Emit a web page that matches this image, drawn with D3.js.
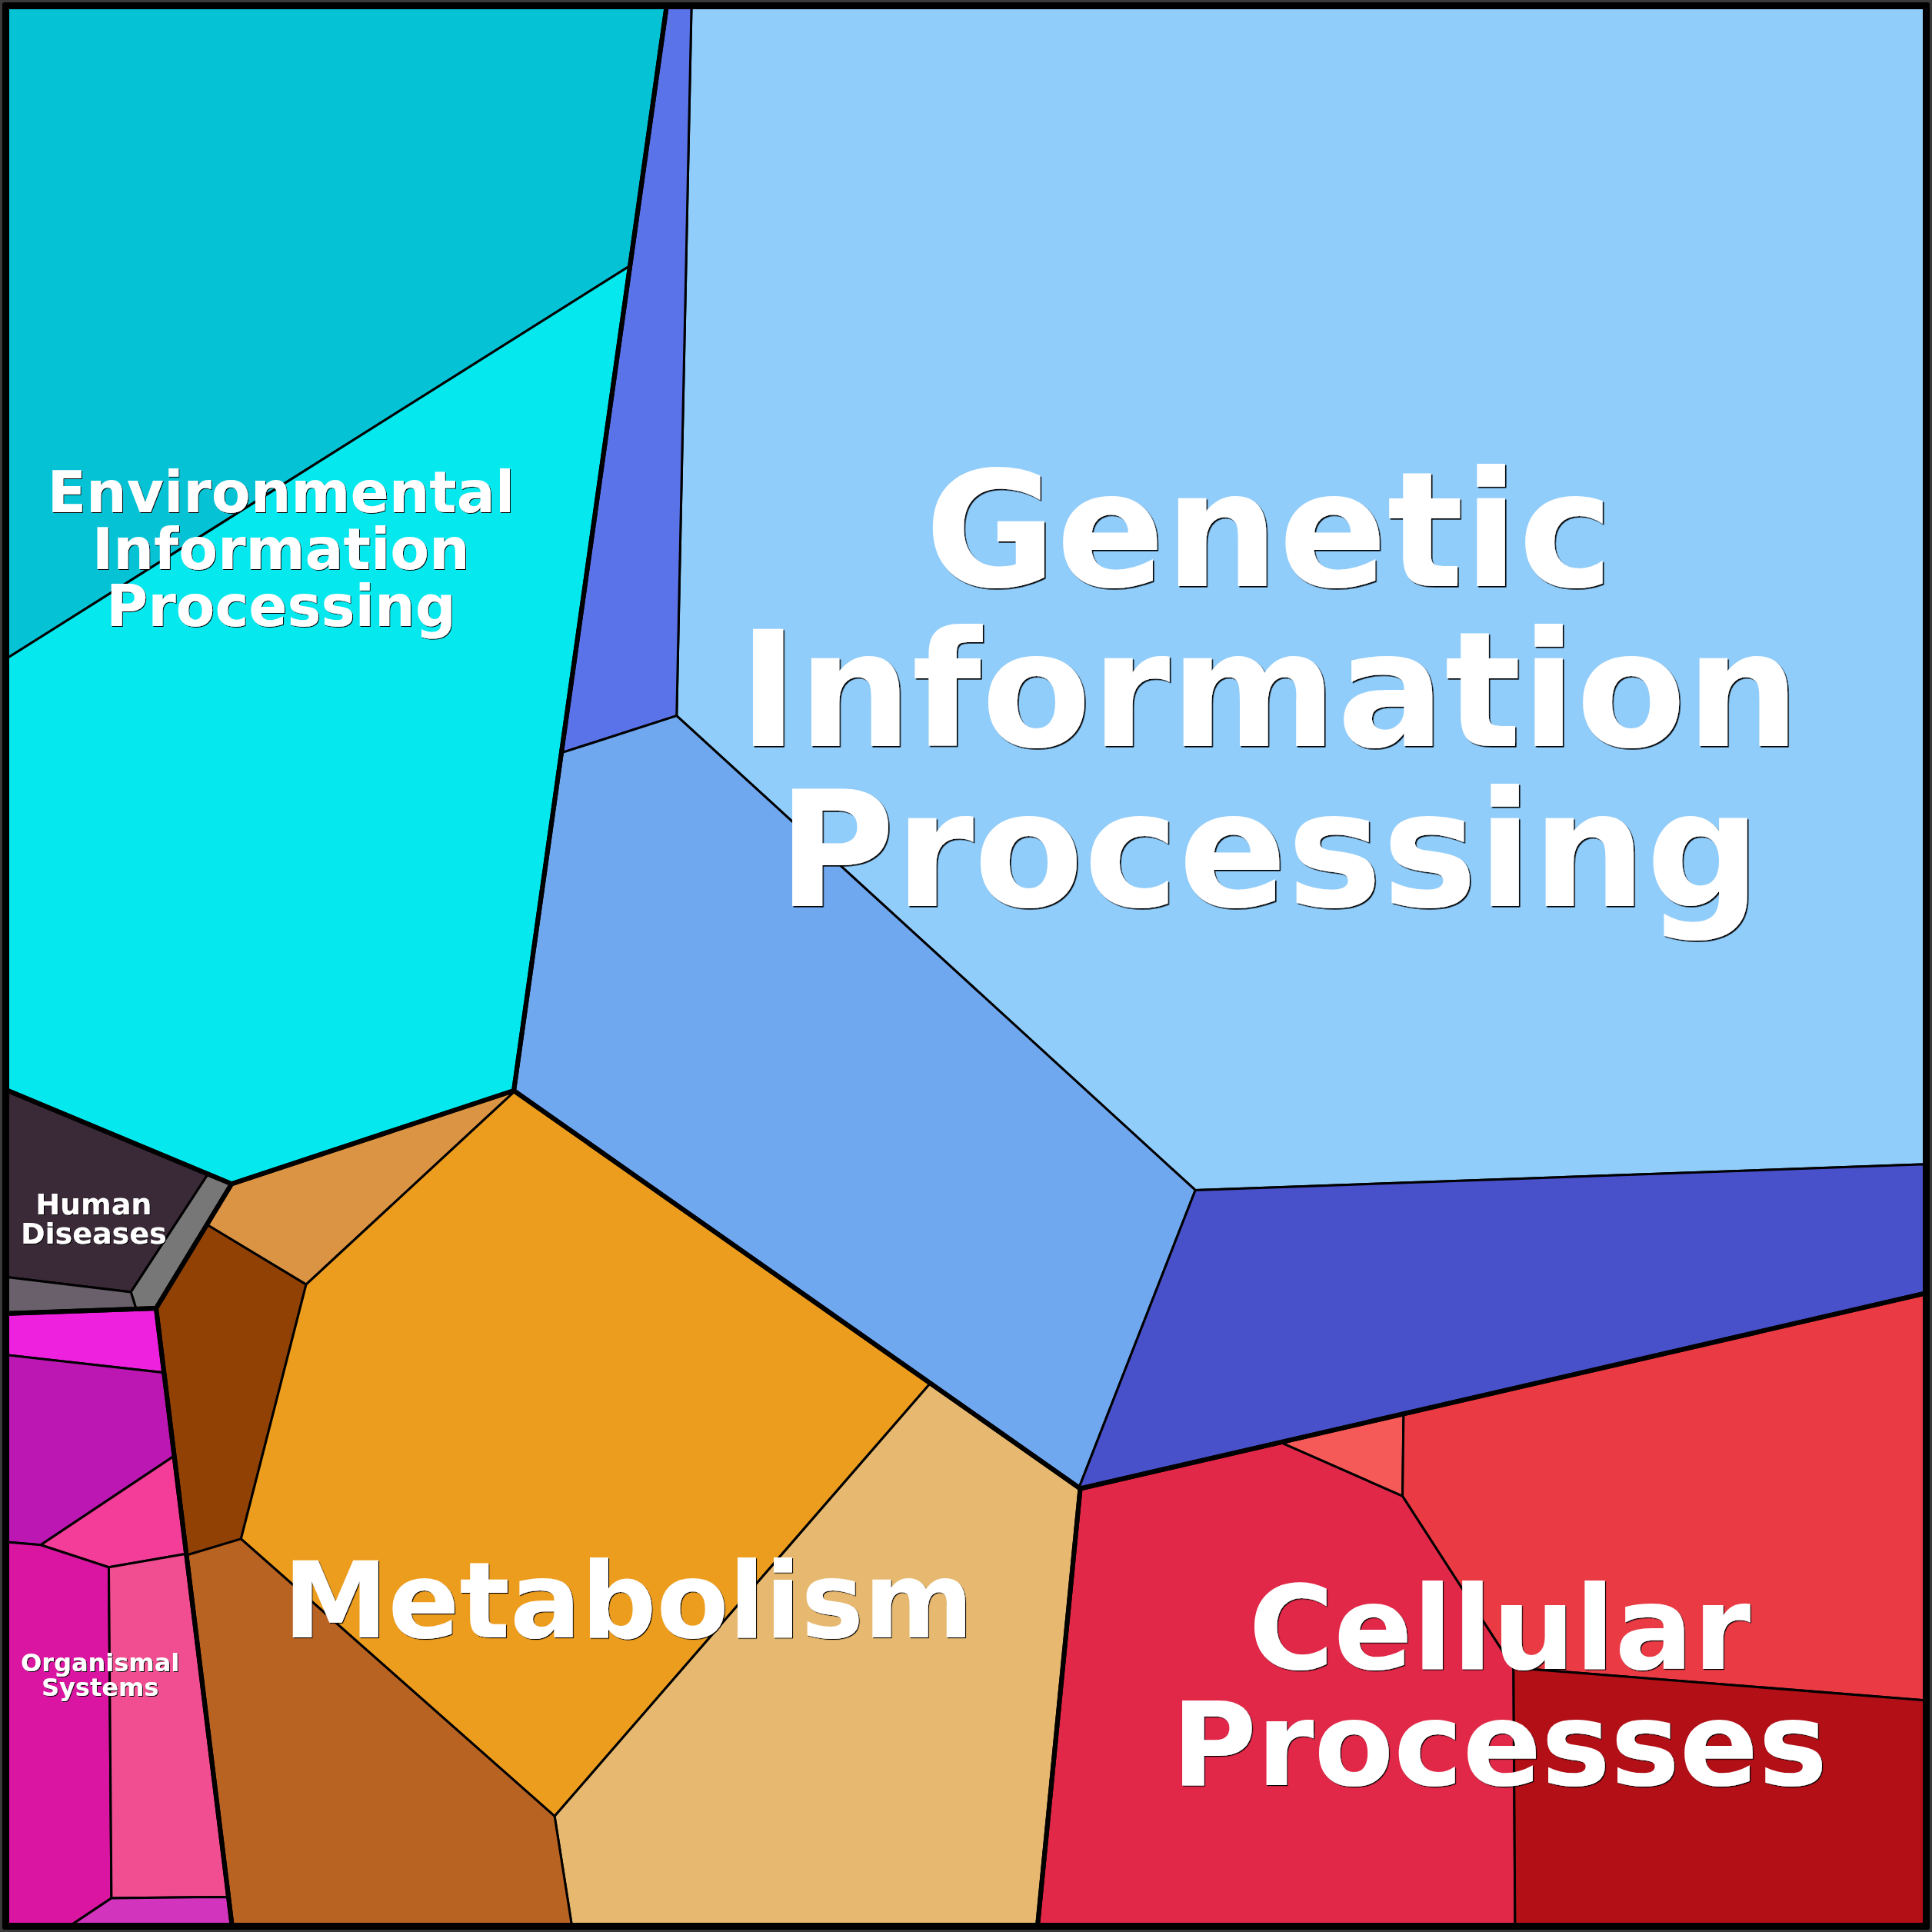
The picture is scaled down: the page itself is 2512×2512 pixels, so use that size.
<!DOCTYPE html>
<html>
<head>
<meta charset="utf-8">
<script src="https://cdn.jsdelivr.net/npm/d3@7"></script>
<style>
  html, body { margin: 0; padding: 0; background: #3a3a3a; }
  svg { display: block; }
</style>
</head>
<body>
<svg id="chart" width="2512" height="2512"></svg>
<script>
// ---------------- DATA ----------------
// Top-level categories (KEGG level 1) and their label lines
const categories = [
  "Environmental Information Processing",
  "Genetic Information Processing",
  "Metabolism",
  "Cellular Processes",
  "Human Diseases",
  "Organismal Systems"
];
const categoryLines = [
  ["Environmental", "Information", "Processing"],
  ["Genetic", "Information", "Processing"],
  ["Metabolism"],
  ["Cellular", "Processes"],
  ["Human", "Diseases"],
  ["Organismal", "Systems"]
];
// Voronoi-treemap generator sites of the categories (layout units 0..1568)
const categorySites = [[228, 445], [1030, 558], [510, 1298], [1217, 1367], [1, 989], [14, 1359]];

// Sub-categories: parent index, value (relative area), generator site, colour
const subParent = [0, 0, 1, 1, 1, 1, 2, 2, 2, 2, 2, 3, 3, 3, 3, 4, 4, 4, 5, 5, 5, 5, 5, 5];
const subValues = [189.0, 240.8, 878.1, 32.7, 171.5, 106.3, 13.5, 20.3, 179.1, 121.5, 59.5,
                   128.0, 3.3, 105.7, 64.9, 17.5, 2.7, 2.2, 5.3, 15.6, 5.5, 24.9, 21.6, 2.5];
const subSites = [[200, 150], [413, 488],
                  [1000, 480], [540.5, 470.4], [662.5, 849], [1018, 988],
                  [248, 949], [161, 1093], [450, 1167], [639, 1331], [251, 1392],
                  [1000, 1410], [1097, 1190], [1336, 1193], [1319, 1408],
                  [60, 978], [135, 1027], [51, 1053],
                  [71.5, 1077], [62.6, 1156.4], [105.3, 1220.4], [40, 1420], [140, 1419.2], [141.6, 1572.2]];
const subColors = ["#05C3D5", "#05E8EE",
                   "#91CDFB", "#5A73E8", "#70A8F0", "#4851C9",
                   "#DA9443", "#924104", "#ED9D1E", "#E7B970", "#B96323",
                   "#E22848", "#F55A58", "#EA3B44", "#B30F17",
                   "#3A2937", "#777777", "#69606B",
                   "#EE22DE", "#BC17B3", "#F33D99", "#DA15A2", "#F04E91", "#D234BE"];

// ---------------- STYLE ----------------
const labelFontSize = [74, 208, 137, 151, 38, 32];

// ---------------- LAYOUT (power diagram / Voronoi treemap) ----------------
const px = d3.scaleLinear().domain([0, 1568]).range([0, 2512]);
const lo = px.invert(9), hi = px.invert(2503);
const square = [[lo, lo], [hi, lo], [hi, hi], [lo, hi]];

function clipHalf(poly, a, b, c) {
  const out = [];
  for (let k = 0; k < poly.length; k++) {
    const P = poly[k], Q = poly[(k + 1) % poly.length];
    const fp = a * P[0] + b * P[1] - c, fq = a * Q[0] + b * Q[1] - c;
    if (fp <= 0) out.push(P);
    if ((fp <= 0) !== (fq <= 0)) {
      const t = fp / (fp - fq);
      out.push([P[0] + t * (Q[0] - P[0]), P[1] + t * (Q[1] - P[1])]);
    }
  }
  return out;
}
function cellOf(i, sites, w, clip) {
  let poly = clip;
  const p = sites[i];
  for (let j = 0; j < sites.length && poly.length; j++) {
    if (j === i) continue;
    const q = sites[j];
    poly = clipHalf(poly, 2 * (q[0] - p[0]), 2 * (q[1] - p[1]),
      (q[0] * q[0] + q[1] * q[1]) - (p[0] * p[0] + p[1] * p[1]) - w[j] + w[i]);
  }
  return poly;
}
const areaOf = poly => poly.length < 3 ? 0 : Math.abs(d3.polygonArea(poly));

function solve(sites, values, clip) {
  const n = sites.length;
  const w = new Array(n).fill(0);
  const total = areaOf(clip), sum = d3.sum(values);
  const T = values.map(v => v / sum * total);
  for (let it = 0; it < 6000; it++) {
    const A = sites.map((_, i) => areaOf(cellOf(i, sites, w, clip)));
    let maxErr = 0;
    const dw = new Array(n).fill(0);
    for (let i = 0; i < n; i++) {
      const err = T[i] - A[i];
      maxErr = Math.max(maxErr, Math.abs(err) / T[i]);
      const w2 = w.slice(); w2[i] += 1;
      const D = areaOf(cellOf(i, sites, w2, clip)) - A[i];
      if (A[i] <= 0 || D <= 1e-9) {
        let md = Infinity;
        sites.forEach((q, j) => { if (j !== i) md = Math.min(md, (q[0] - sites[i][0]) ** 2 + (q[1] - sites[i][1]) ** 2); });
        dw[i] = 0.1 * md;
      } else {
        dw[i] = 0.5 * err / D;
      }
    }
    for (let i = 0; i < n; i++) w[i] += dw[i];
    if (maxErr < 1e-5) break;
  }
  return sites.map((_, i) => cellOf(i, sites, w, clip));
}

const catTotals = categories.map((_, k) => d3.sum(subValues.filter((v, i) => subParent[i] === k)));
const topCells = solve(categorySites, catTotals, square);
const subCells = new Array(subValues.length);
categories.forEach((_, k) => {
  const idx = d3.range(subValues.length).filter(i => subParent[i] === k);
  const cells = solve(idx.map(i => subSites[i]), idx.map(i => subValues[i]), topCells[k]);
  idx.forEach((i, m) => { subCells[i] = cells[m]; });
});

// ---------------- DRAW ----------------
const svg = d3.select("#chart");
const pathOf = pts => "M" + pts.map(p => px(p[0]) + "," + px(p[1])).join("L") + "Z";

const defs = svg.append("defs");
labelFontSize.forEach((fs, k) => {
  const off = Math.max(1, fs * 0.008);
  defs.append("filter").attr("id", "shadow" + k)
    .attr("x", "-5%").attr("y", "-5%").attr("width", "110%").attr("height", "110%")
    .append("feDropShadow")
    .attr("dx", off).attr("dy", off).attr("stdDeviation", 0.3)
    .attr("flood-color", "#000").attr("flood-opacity", 1);
});

svg.append("rect").attr("x", 3).attr("y", 3).attr("width", 2506).attr("height", 2506)
  .attr("rx", 3).attr("fill", "#000");

svg.append("g").selectAll("path").data(subCells).join("path")
  .attr("d", pathOf)
  .attr("fill", (d, i) => subColors[i])
  .attr("stroke", "#000").attr("stroke-width", 3).attr("stroke-linejoin", "miter");

svg.append("g").selectAll("path").data(topCells).join("path")
  .attr("d", pathOf)
  .attr("fill", "none")
  .attr("stroke", "#000").attr("stroke-width", 6).attr("stroke-linejoin", "miter");

const labels = svg.append("g")
  .attr("font-family", "'DejaVu Sans', sans-serif")
  .attr("font-weight", "bold")
  .attr("text-anchor", "middle");

categories.forEach((name, k) => {
  const fs = labelFontSize[k];
  const lines = categoryLines[k];
  const t = labels.append("text")
    .attr("font-size", fs)
    .attr("fill", "#fff")
    .attr("filter", "url(#shadow" + k + ")");
  let maxW = 0;
  lines.forEach(l => { t.text(l); maxW = Math.max(maxW, t.node().getComputedTextLength()); });
  t.text(null);
  const pad = 15;
  let cx = px(categorySites[k][0]);
  cx = Math.max(12 + pad + maxW / 2, Math.min(2500 - pad - maxW / 2, cx));
  const cy = px(categorySites[k][1]);
  const n = lines.length, lh = fs, cap = 0.729 * fs;
  lines.forEach((l, j) => {
    t.append("tspan")
      .attr("x", cx)
      .attr("y", cy + (j - (n - 1) / 2) * lh + cap / 2)
      .text(l);
  });
});
</script>
</body>
</html>
